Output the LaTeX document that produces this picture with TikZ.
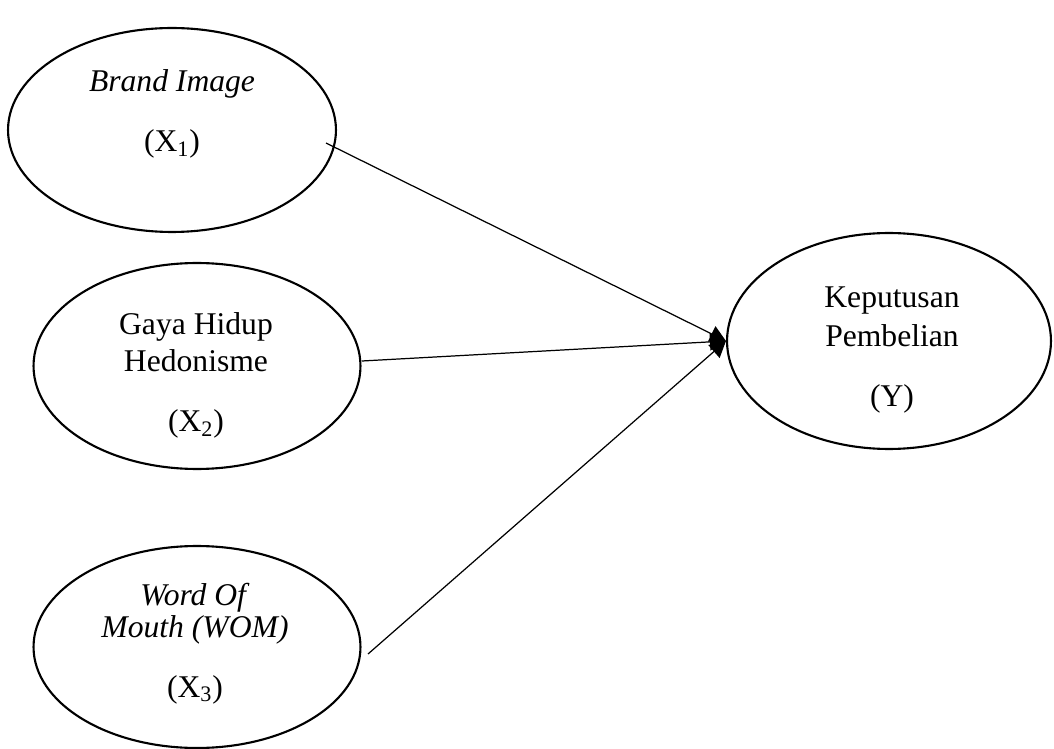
\documentclass[tikz,border=0pt]{standalone}
\usepackage{fontspec}
\setmainfont{Liberation Serif}
\usetikzlibrary{shapes.geometric,arrows.meta}

\begin{document}
\begin{tikzpicture}[x=0.02cm, y=-0.02cm,
    var/.style={draw, ellipse, line width=1.2pt, inner sep=0pt},
    lbl/.style={anchor=base, inner sep=0pt, font=\fontsize{18}{22}\selectfont},
    conn/.style={line width=0.7pt, -{Triangle[length=0.32cm, width=0.34cm]}}]

            % Fix page size
            \useasboundingbox (0,0) rectangle (1054,749);

            % Draw variables
            \node[var, minimum width=6.56cm, minimum height=4.08cm] (x1) at (172,130) {};
            \node[var, minimum width=6.54cm, minimum height=4.12cm] (x2) at (197,366) {};
            \node[var, minimum width=6.54cm, minimum height=4.04cm] (x3) at (197,647) {};
            \node[var, minimum width=6.48cm, minimum height=4.32cm] (y) at (889,341) {};

            % Labels of X1
            \node[lbl] (x1a) at (172,92) {\textit{Brand Image}};
            \node[lbl] (x1b) at (172,152) {(X\textsubscript{1})};

            % Labels of X2
            \node[lbl] (x2a) at (196,335) {Gaya Hidup};
            \node[lbl] (x2b) at (196,372) {Hedonisme};
            \node[lbl] (x2c) at (196,432) {(X\textsubscript{2})};

            % Labels of X3
            \node[lbl] (x3a) at (195,605) {\textit{Word Of}};
            \node[lbl] (x3b) at (195,637) {\textit{Mouth (WOM)}};
            \node[lbl] (x3c) at (195,697) {(X\textsubscript{3})};

            % Labels of Y
            \node[lbl] (ya) at (892,308) {Keputusan};
            \node[lbl] (yb) at (892,347) {Pembelian};
            \node[lbl] (yc) at (892,407) {(Y)};

            % Draw paths
            \coordinate (s1) at (326,143);
            \coordinate (s2) at (362,361);
            \coordinate (s3) at (368,654);
            \draw[conn] (s1) -- (y.west);
            \draw[conn] (s2) -- (y.west);
            \draw[conn] (s3) -- (y.west);
        \end{tikzpicture}
\end{document}
